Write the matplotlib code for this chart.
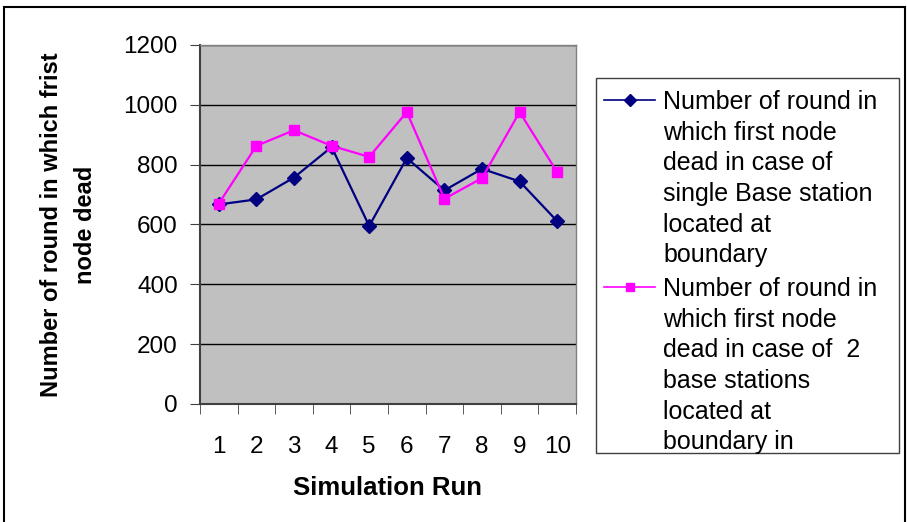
import numpy as np
import matplotlib.pyplot as plt
from matplotlib.lines import Line2D
from matplotlib.patches import Rectangle

runs = np.arange(1, 11)
single_bs = [667, 684, 757, 859, 595, 822, 714, 786, 744, 611]
two_bs = [670, 863, 915, 863, 826, 976, 686, 755, 976, 775]
y_ticks = [0, 200, 400, 600, 800, 1000, 1200]

label_single = ("Number of round in\nwhich first node\ndead in case of\n"
                "single Base station\nlocated at\nboundary")
label_two = ("Number of round in\nwhich first node\ndead in case of  2\n"
             "base stations\nlocated at\nboundary in")

plt.rcParams["font.family"] = ["Liberation Sans", "DejaVu Sans"]

W, H = 907, 522
fig = plt.figure(figsize=(W / 100, H / 100), dpi=100)

# plot area in pixels: x 200..576, y 45..404 (from top)
ax = fig.add_axes([200 / W, 1 - 404 / H, 376 / W, 359 / H])
ax.set_facecolor("#C0C0C0")

ax.plot(runs, single_bs, "-D", color="#000080", lw=1.6, ms=7, zorder=3)
ax.plot(runs, two_bs, "-s", color="#FF00FF", lw=1.6, ms=7.5, zorder=3)

ax.set_xlim(0.5, 10.5)
ax.set_ylim(0, 1200)
ax.set_yticks(y_ticks)
ax.set_xticks(runs)
ax.set_xticks(np.arange(0.5, 11, 1), minor=True)
ax.tick_params(axis="x", which="major", length=0, pad=23, labelsize=17.5)
ax.tick_params(axis="x", which="minor", length=7, direction="out", color="#404040")
ax.tick_params(axis="y", length=7, direction="out", color="#404040", labelsize=17.5, pad=9)
ax.yaxis.grid(True, color="black", lw=1)
ax.set_axisbelow(True)

for side in ("left", "bottom"):
    ax.spines[side].set_color("#404040")
    ax.spines[side].set_linewidth(1.5)
for side in ("top", "right"):
    ax.spines[side].set_color("#808080")
    ax.spines[side].set_linewidth(1)

ax.set_xlabel("Simulation Run", fontsize=18.5, fontweight="bold", labelpad=13)
ax.set_ylabel("Number of round in which frist\nnode dead", fontsize=17,
              fontweight="bold", labelpad=19, linespacing=1.6)

# outer chart border
fig.patches.append(Rectangle((4 / W, -0.05), 901 / W, 1.05 - 7 / H,
                             transform=fig.transFigure, fill=False,
                             edgecolor="black", lw=1.5))

# legend box
lx0, lx1, ly0, ly1 = 596, 899, 78, 453
fig.patches.append(Rectangle((lx0 / W, 1 - ly1 / H), (lx1 - lx0) / W, (ly1 - ly0) / H,
                             transform=fig.transFigure, fill=False,
                             edgecolor="#404040", lw=1))

for yy, color, marker, label in [(100, "#000080", "D", label_single),
                                 (287, "#FF00FF", "s", label_two)]:
    fig.lines.append(Line2D([604 / W, 655 / W], [1 - yy / H] * 2,
                            transform=fig.transFigure, color=color, lw=1.2))
    fig.lines.append(Line2D([630 / W], [1 - yy / H], transform=fig.transFigure,
                            color=color, marker=marker, ms=6, ls="none"))
    fig.text(663 / W, 1 - (yy - 10) / H, label, fontsize=18, va="top",
             ha="left", linespacing=1.35)

fig.savefig("out.png", dpi=100)
